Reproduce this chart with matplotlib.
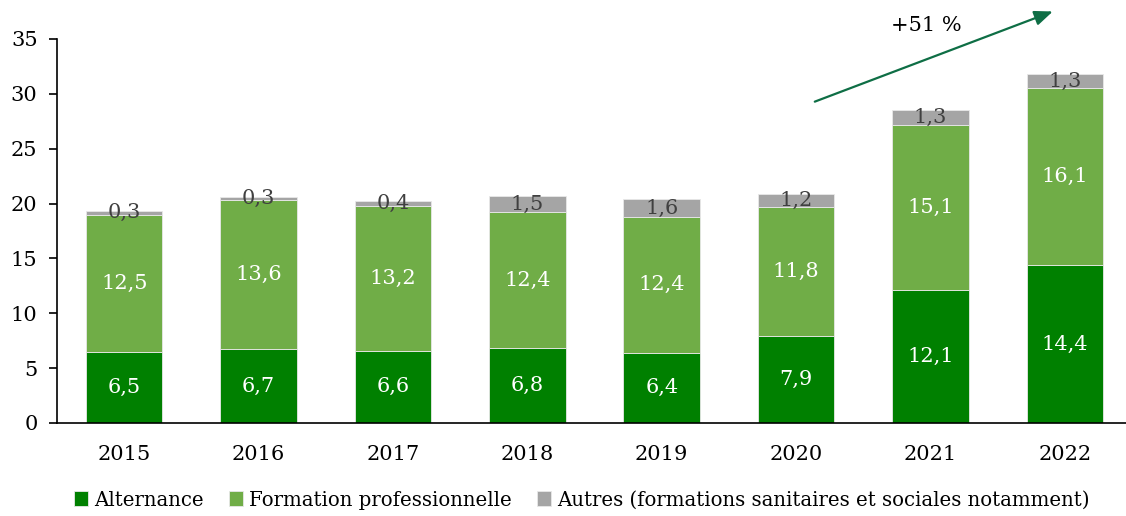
import numpy as np
import matplotlib
matplotlib.use("Agg")
import matplotlib.pyplot as plt

# Data
years = ["2015", "2016", "2017", "2018", "2019", "2020", "2021", "2022"]
alternance = [6.5, 6.7, 6.6, 6.8, 6.4, 7.9, 12.1, 14.4]
formation = [12.5, 13.6, 13.2, 12.4, 12.4, 11.8, 15.1, 16.1]
autres = [0.3, 0.3, 0.4, 1.5, 1.6, 1.2, 1.3, 1.3]
series_names = ["Alternance", "Formation professionnelle",
                "Autres (formations sanitaires et sociales notamment)"]
growth_label = "+51 %"

# Style
COLORS = ["#008000", "#70AD47", "#A5A5A5"]
LABEL_COLORS = ["white", "white", "#404040"]
ARROW_COLOR = "#0E6E45"
FONT = "DejaVu Serif"

plt.rcParams['font.family'] = FONT

W, H = 1126, 516
fig = plt.figure(figsize=(W / 100, H / 100), dpi=100)
ax = fig.add_axes([57 / W, 93 / H, 1075 / W, 384 / H])

x = np.arange(len(years))
bottom = np.zeros(len(years))
for vals, color, lcol, name in zip([alternance, formation, autres], COLORS, LABEL_COLORS, series_names):
    vals = np.array(vals)
    ax.bar(x, vals, width=0.57, bottom=bottom, color=color,
           edgecolor="#e8e8e8", linewidth=0.6, label=name)
    for xi, b, v in zip(x, bottom, vals):
        ax.text(xi, b + v / 2, f"{v:.1f}".replace(".", ","), ha="center", va="center",
                color=lcol, fontsize=15)
    bottom = bottom + vals

ax.set_xlim(-0.5, len(years) - 0.5)
ax.set_ylim(0, 35)
ax.set_yticks(np.arange(0, 36, 5))
ax.set_xticks(x)
ax.set_xticklabels(years)
ax.tick_params(axis="y", labelsize=15, length=6, width=1.2, pad=8)
ax.tick_params(axis="x", labelsize=15, length=0, pad=16)
for s in ["top", "right"]:
    ax.spines[s].set_visible(False)
ax.spines["left"].set_linewidth(1.2)
ax.spines["bottom"].set_linewidth(1.2)

# growth arrow
ax.annotate("", xy=(6.93, 37.6), xytext=(5.12, 29.2), annotation_clip=False,
            arrowprops=dict(arrowstyle="-|>,head_length=1.1,head_width=0.45",
                            color=ARROW_COLOR, lw=1.6))
ax.text(5.97, 36.2, growth_label, ha="center", va="center", fontsize=15, clip_on=False)

fig.legend(loc="center", bbox_to_anchor=(582 / W, 16 / H), ncol=3, frameon=False,
           fontsize=14.2, handlelength=0.7, handleheight=0.8, handletextpad=0.3,
           columnspacing=1.3)

fig.savefig("out.png", dpi=100)
